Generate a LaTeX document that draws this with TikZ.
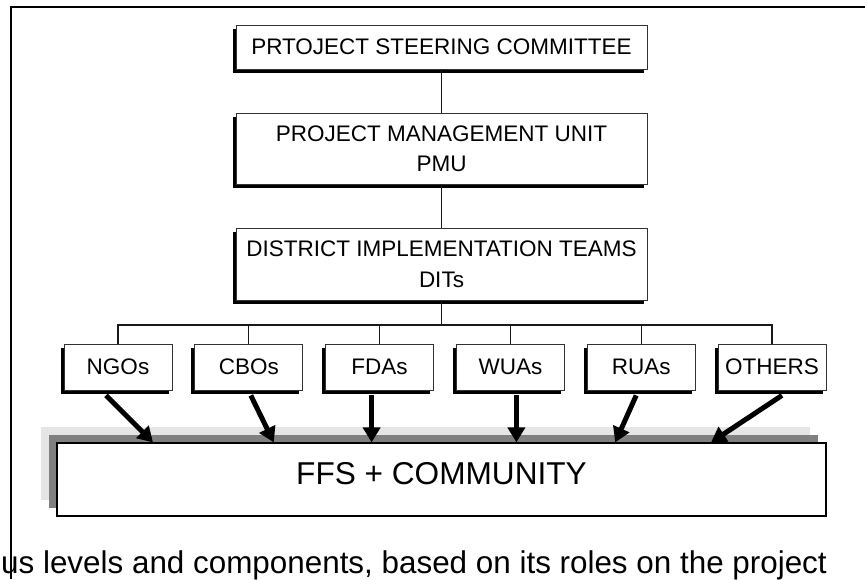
\documentclass[tikz,border=0pt]{standalone}
\usepackage{fontspec}
\setmainfont{Liberation Sans}
\usetikzlibrary{arrows.meta,positioning,calc,shadows}

\begin{document}
\begin{tikzpicture}[
    x=1pt, y=-1pt,
    orgbox/.style={draw=black!80, fill=white, line width=0.8pt, inner sep=0pt, align=center,
      font=\fontsize{22.5}{30.5}\selectfont,
      drop shadow={shadow xshift=-3.5pt, shadow yshift=-4pt, opacity=1, fill=black}},
    groupbox/.style={orgbox, minimum width=108pt, minimum height=46pt},
    link/.style={draw=black!90, line width=1.1pt},
    feed/.style={-{Triangle[length=15pt,width=17pt]}, line width=5pt}
]
  \useasboundingbox (0,0) rectangle (865,579);

  % outer frame
  \draw[line width=2pt] (10.5,579) -- (10.5,7) -- (865,7);

  % management levels
  \node[orgbox, minimum width=411pt, minimum height=44pt] (psc) at (441.5,47) {PRTOJECT STEERING COMMITTEE};
  \node[orgbox, minimum width=411pt, minimum height=71pt] (pmu) at (441.5,148.5) {PROJECT MANAGEMENT UNIT\\PMU};
  \node[orgbox, minimum width=411pt, minimum height=72pt] (dit) at (441.5,264) {DISTRICT IMPLEMENTATION TEAMS\\DITs};

  % partner groups
  \node[groupbox] (ngo) at (118,367) {NGOs};
  \node[groupbox, right=22pt of ngo] (cbo) {CBOs};
  \node[groupbox, right=22pt of cbo] (fda) {FDAs};
  \node[groupbox, right=22pt of fda] (wua) {WUAs};
  \node[groupbox, right=22pt of wua] (rua) {RUAs};
  \node[groupbox, right=22pt of rua] (oth) {OTHERS};

  % field level
  \node[draw=black, line width=1.2pt, fill=white, minimum width=769pt, minimum height=73pt,
    font=\fontsize{31.6}{36}\selectfont, text height=22.5pt, text depth=13pt,
    drop shadow={shadow xshift=-16pt, shadow yshift=16pt, opacity=1, fill=black!10},
    drop shadow={shadow xshift=-8pt, shadow yshift=8pt, opacity=1, fill=black!50}] (ffs) at (441.5,479.5) {FFS + COMMUNITY};

  % hierarchy lines
  \coordinate (bus) at (441.5,325);
  \draw[link] (psc) -- (pmu);
  \draw[link] (pmu) -- (dit);
  \draw[link] (dit.south) -- (bus);
  \draw[link] (ngo.north) |- (bus) -| (oth.north);
  \foreach \n in {cbo,fda,wua,rua}
    \draw[link] (\n.north) -- (\n.north |- bus);

  % support arrows
  \foreach \n/\a/\b in {ngo/-12/35, cbo/2/25, fda/-8/-8, wua/6/6, rua/-5/-26, oth/10/-61}
    \draw[feed] ($(\n.south)+(\a,5)$) -- ($(ffs.north -| \n.south)+(\b,0)$);

  % caption
  \node[anchor=base west, inner sep=0pt, font=\fontsize{31.4}{36}\selectfont] (cap) at (1,573)
    {us levels and components, based on its roles on the project};
\end{tikzpicture}
\end{document}
